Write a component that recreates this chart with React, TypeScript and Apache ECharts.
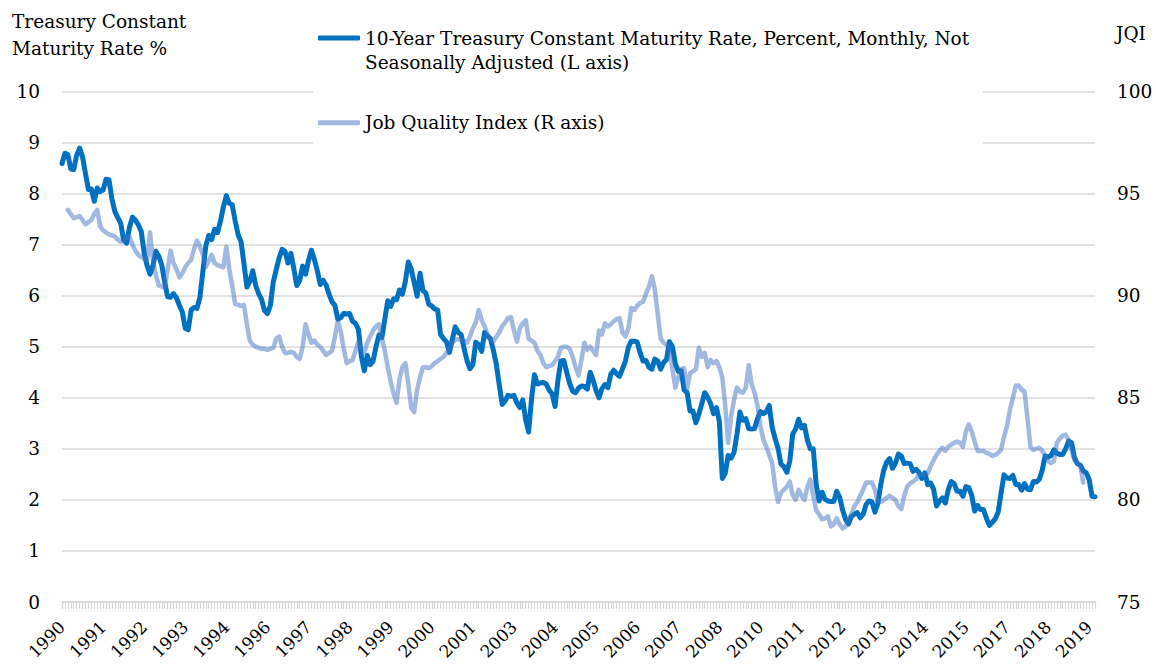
import { useEffect, useRef } from "react";
import * as echarts from "echarts";

// Monthly data, first month = March 1990
const START_YEAR = 1990;
const START_MONTH = 3;

// 10-Year Treasury Constant Maturity Rate (%), Mar 1990 - Jul 2019
const treasury10y = [
  8.59, 8.79, 8.76, 8.48, 8.47, 8.75, 8.89, 8.72, 8.39, 8.08,
  8.09, 7.85, 8.11, 8.04, 8.07, 8.28, 8.27, 7.9, 7.65, 7.53, 7.42, 7.09,
  7.03, 7.34, 7.54, 7.48, 7.39, 7.26, 6.84, 6.59, 6.42, 6.59, 6.87, 6.77,
  6.6, 6.26, 5.98, 5.97, 6.04, 5.96, 5.81, 5.68, 5.36, 5.33, 5.72, 5.77,
  5.75, 5.97, 6.48, 6.97, 7.18, 7.1, 7.3, 7.24, 7.46, 7.74, 7.96, 7.81,
  7.78, 7.47, 7.2, 7.06, 6.63, 6.17, 6.28, 6.49, 6.2, 6.04, 5.93, 5.71,
  5.65, 5.81, 6.27, 6.51, 6.74, 6.91, 6.87, 6.64, 6.83, 6.53, 6.2, 6.3,
  6.58, 6.42, 6.69, 6.89, 6.71, 6.49, 6.22, 6.3, 6.21, 6.03, 5.88, 5.81,
  5.54, 5.57, 5.65, 5.64, 5.65, 5.5, 5.46, 5.34, 4.81, 4.53, 4.83, 4.65,
  4.72, 5.0, 5.23, 5.18, 5.54, 5.9, 5.79, 5.94, 5.92, 6.11, 6.03, 6.28,
  6.66, 6.52, 6.26, 5.99, 6.44, 6.1, 6.05, 5.83, 5.8, 5.74, 5.72, 5.24,
  5.16, 5.1, 4.89, 5.14, 5.39, 5.28, 5.24, 4.97, 4.73, 4.57, 4.65, 5.09,
  5.04, 4.91, 5.28, 5.21, 5.16, 4.93, 4.65, 4.26, 3.87, 3.94, 4.05, 4.03,
  4.05, 3.9, 3.81, 3.96, 3.57, 3.33, 3.98, 4.45, 4.27, 4.29, 4.3, 4.27,
  4.15, 4.08, 3.83, 4.35, 4.72, 4.73, 4.5, 4.28, 4.13, 4.1, 4.19, 4.23,
  4.22, 4.17, 4.5, 4.34, 4.14, 4.0, 4.18, 4.26, 4.2, 4.46, 4.54, 4.47,
  4.42, 4.57, 4.72, 4.99, 5.11, 5.11, 5.09, 4.88, 4.72, 4.73, 4.6, 4.56,
  4.76, 4.72, 4.56, 4.69, 4.75, 5.1, 5.0, 4.67, 4.52, 4.53, 4.15, 4.1,
  3.74, 3.74, 3.51, 3.68, 3.88, 4.1, 4.01, 3.89, 3.69, 3.81, 3.53, 2.42,
  2.52, 2.87, 2.82, 2.93, 3.29, 3.72, 3.56, 3.59, 3.4, 3.39, 3.4, 3.59,
  3.73, 3.69, 3.73, 3.85, 3.42, 3.2, 3.01, 2.7, 2.65, 2.54, 2.76, 3.29,
  3.39, 3.58, 3.41, 3.46, 3.17, 3.0, 3.0, 2.3, 1.98, 2.15, 2.01, 1.98,
  1.97, 1.97, 2.17, 2.05, 1.8, 1.62, 1.53, 1.68, 1.72, 1.75, 1.65, 1.72,
  1.91, 1.98, 1.96, 1.76, 1.93, 2.3, 2.58, 2.74, 2.81, 2.62, 2.72, 2.9,
  2.86, 2.71, 2.72, 2.71, 2.56, 2.6, 2.54, 2.42, 2.53, 2.3, 2.33, 2.21,
  1.88, 1.98, 2.04, 1.94, 2.2, 2.36, 2.32, 2.17, 2.17, 2.07, 2.26, 2.24,
  2.09, 1.78, 1.89, 1.81, 1.81, 1.64, 1.5, 1.56, 1.63, 1.76, 2.14, 2.49,
  2.43, 2.42, 2.48, 2.3, 2.3, 2.19, 2.32, 2.21, 2.2, 2.36, 2.35, 2.4,
  2.58, 2.86, 2.84, 2.87, 2.98, 2.91, 2.89, 2.89, 3.0, 3.15, 3.12, 2.83,
  2.71, 2.68, 2.57, 2.53, 2.4, 2.07, 2.06,
];

// Job Quality Index, first value = May 1990 (2 months after the start)
const JQI_OFFSET = 2;
const jqi = [
  94.2, 94.0, 93.8, 93.85, 93.9, 93.7, 93.5, 93.6, 93.7, 94.0, 94.2,
  93.4, 93.2, 93.1, 93.0, 92.95, 92.9, 92.75, 92.65, 92.7, 92.8, 92.9,
  92.5, 92.2, 92.0, 91.9, 91.8, 91.75, 93.1, 91.7, 91.0, 90.5, 90.45, 90.4,
  91.3, 92.2, 91.6, 91.3, 90.9, 91.1, 91.4, 91.6, 91.75, 92.3, 92.7, 92.4,
  92.0, 91.4, 91.7, 92.0, 91.6, 91.5, 91.45, 91.4, 92.4, 91.3, 90.5, 89.6,
  89.55, 89.5, 89.55, 88.6, 87.8, 87.6, 87.5, 87.45, 87.4, 87.4, 87.35, 87.4,
  87.45, 87.9, 88.0, 87.5, 87.2, 87.2, 87.25, 87.2, 87.0, 86.9, 87.5, 88.6,
  88.1, 87.7, 87.8, 87.6, 87.5, 87.3, 87.1, 87.2, 87.3, 88.0, 88.75, 88.25,
  87.4, 86.7, 86.8, 86.85, 87.3, 87.75, 87.4, 87.2, 87.7, 88.0, 88.3, 88.5,
  88.6, 87.9, 87.3, 86.5, 85.8, 85.2, 84.75, 85.9, 86.5, 86.7, 85.7, 84.5,
  84.3, 85.4, 86.0, 86.5, 86.5, 86.45, 86.55, 86.7, 86.8, 86.9, 87.0, 87.2,
  87.4, 87.7, 87.85, 87.85, 87.85, 87.8, 87.7, 88.0, 88.4, 88.7, 89.3, 88.8,
  88.5, 88.1, 87.9, 87.75, 88.0, 88.2, 88.5, 88.7, 88.9, 88.95, 88.3, 87.75,
  88.4, 88.65, 88.8, 87.9, 87.8, 87.7, 87.3, 87.1, 86.7, 86.5, 86.55, 86.6,
  86.8, 87.0, 87.45, 87.5, 87.5, 87.4, 87.0, 86.5, 86.1, 86.85, 87.7, 87.35,
  87.5, 87.3, 87.1, 88.3, 88.1, 88.65, 88.5, 88.6, 88.75, 88.85, 88.9, 88.2,
  88.0, 88.4, 89.4, 89.3, 89.5, 89.65, 89.7, 90.1, 90.45, 90.95, 90.3, 89.1,
  87.9, 87.7, 87.6, 87.45, 86.4, 85.5, 86.0, 86.4, 86.45, 85.4, 86.2, 86.3,
  86.4, 87.45, 87.0, 87.2, 86.5, 86.85, 86.7, 86.8, 86.5, 86.0, 84.6, 82.8,
  84.1, 84.9, 85.5, 85.3, 85.25, 85.5, 86.6, 85.65, 85.25, 84.6, 83.6, 82.95,
  82.6, 82.2, 81.8, 80.65, 79.9, 80.35, 80.5, 80.65, 80.9, 80.25, 80.0, 80.5,
  80.2, 80.0, 80.65, 81.0, 80.2, 79.5, 79.3, 79.05, 79.1, 79.2, 78.7, 78.8,
  79.1, 78.8, 78.6, 78.7, 79.05, 79.3, 79.7, 79.9, 80.2, 80.5, 80.85, 80.85,
  80.85, 80.5, 79.9, 79.9, 80.0, 80.1, 80.2, 80.1, 80.0, 79.7, 79.55, 80.2,
  80.65, 80.8, 80.9, 81.0, 81.25, 81.25, 81.25, 81.3, 81.65, 81.95, 82.2, 82.4,
  82.55, 82.4, 82.6, 82.7, 82.8, 82.85, 82.8, 82.6, 83.35, 83.7, 83.35, 82.85,
  82.4, 82.4, 82.4, 82.3, 82.25, 82.15, 82.2, 82.3, 82.45, 83.1, 83.6, 84.4,
  85.0, 85.6, 85.6, 85.4, 85.3, 84.0, 82.6, 82.45, 82.5, 82.55, 82.4, 82.2,
  81.9, 81.8, 81.9, 82.8, 83.0, 83.15, 83.2, 82.95, 82.45, 81.95, 81.8, 81.65, 80.85,
];

const leftTicks = { min: 0, max: 10, interval: 1 };
const rightTicks = { min: 75, max: 100, interval: 5 };

const SERIES_TREASURY =
  "10-Year Treasury Constant Maturity Rate, Percent, Monthly, Not Seasonally Adjusted (L axis)";
const SERIES_JQI = "Job Quality Index (R axis)";

const months = treasury10y.map((_, i) => {
  const m = START_MONTH - 1 + i;
  const y = START_YEAR + Math.floor(m / 12);
  const mm = (m % 12) + 1;
  return `${y}-${String(mm).padStart(2, "0")}`;
});

const jqiSeries = months.map((_, i) => {
  const j = i - JQI_OFFSET;
  return j >= 0 && j < jqi.length ? jqi[j] : null;
});

const FONT = "DejaVu Serif";
const FS = 18.5;

export default function App() {
  const ref = useRef<HTMLDivElement>(null);

  useEffect(() => {
    if (!ref.current) return;
    const chart = echarts.init(ref.current, undefined, { renderer: "svg" });
    chart.setOption({
      animation: false,
      backgroundColor: "#ffffff",
      textStyle: { fontFamily: FONT, color: "#000" },
      grid: { left: 62, right: 61, top: 91.5, bottom: 64 },
      legend: [
        {
          data: [SERIES_TREASURY],
          left: 318,
          top: 2,
          padding: 0,
          icon: "roundRect",
          itemWidth: 42,
          itemHeight: 5,
          selectedMode: false,
          formatter: () =>
            "\n10-Year Treasury Constant Maturity Rate, Percent, Monthly, Not\nSeasonally Adjusted (L axis)",
          textStyle: {
            fontFamily: FONT,
            fontSize: FS,
            color: "#000",
            lineHeight: 24,
          },
        },
        {
          data: [SERIES_JQI],
          left: 318,
          top: 111,
          padding: 0,
          icon: "roundRect",
          itemWidth: 42,
          itemHeight: 5,
          selectedMode: false,
          textStyle: {
            fontFamily: FONT,
            fontSize: FS,
            color: "#000",
            lineHeight: 23.5,
          },
        },
      ],
      graphic: [
        {
          type: "rect",
          z: 1,
          shape: { x: 313, y: 80, width: 670, height: 70 },
          style: { fill: "#ffffff" },
          silent: true,
        },
        {
          type: "text",
          left: 12,
          top: 8,
          style: {
            text: "Treasury Constant\nMaturity Rate %",
            font: `${FS}px "${FONT}"`,
            fill: "#000",
            lineHeight: 26.7,
          },
        },
        {
          type: "text",
          left: 1116,
          top: 24,
          style: {
            text: "JQI",
            font: `${FS}px "${FONT}"`,
            fill: "#000",
          },
        },
      ],
      xAxis: {
        type: "category",
        data: months,
        boundaryGap: false,
        axisLine: { show: true, lineStyle: { color: "#d9d9d9", width: 1.5 } },
        axisTick: {
          show: true,
          interval: 0,
          length: 7,
          lineStyle: { color: "#d4d4d4", width: 1.2 },
        },
        axisLabel: {
          interval: 13,
          rotate: 45,
          margin: 22,
          fontFamily: FONT,
          fontSize: 17,
          color: "#000",
          formatter: (v: string) => v.slice(0, 4),
        },
        splitLine: { show: false },
      },
      yAxis: [
        {
          type: "value",
          position: "left",
          ...leftTicks,
          axisLine: { show: false },
          axisTick: { show: false },
          axisLabel: { margin: 22, fontFamily: FONT, fontSize: FS, color: "#000" },
          splitLine: { show: true, lineStyle: { color: "#d9d9d9", width: 1.5 } },
        },
        {
          type: "value",
          position: "right",
          ...rightTicks,
          axisLine: { show: false },
          axisTick: { show: false },
          axisLabel: { margin: 22, fontFamily: FONT, fontSize: FS, color: "#000" },
          splitLine: { show: false },
        },
      ],
      series: [
        {
          name: SERIES_TREASURY,
          type: "line",
          data: treasury10y,
          yAxisIndex: 0,
          symbol: "none",
          color: "#0070C0",
          lineStyle: { width: 5, color: "#0070C0", cap: "round", join: "round" },
          z: 2,
        },
        {
          name: SERIES_JQI,
          type: "line",
          data: jqiSeries,
          yAxisIndex: 1,
          symbol: "none",
          color: "rgba(68,114,196,0.5)",
          lineStyle: { width: 4.5, color: "rgba(68,114,196,0.5)", cap: "round", join: "round" },
          z: 3,
        },
      ],
    });
    return () => chart.dispose();
  }, []);

  return (
    <div
      ref={ref}
      style={{ position: "fixed", left: 0, top: 0, width: 1156, height: 666 }}
    />
  );
}
